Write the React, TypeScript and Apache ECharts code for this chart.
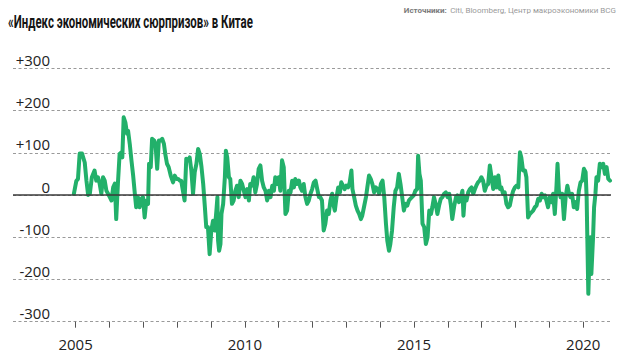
import React, { useEffect, useRef } from "react";
import * as echarts from "echarts";

const TITLE = "«Индекс экономических сюрпризов» в Китае";
const SOURCE_LABEL = "Источники:";
const SOURCE_TEXT = "Citi, Bloomberg, Центр макроэкономики BCG";

const tickYears = [2005, 2006, 2007, 2008, 2009, 2010, 2011, 2012, 2013, 2014, 2015, 2016, 2017, 2018, 2019, 2020];
const labelYears = [2005, 2010, 2015, 2020];

// decimal years
const dates = [
  2004.95, 2005.02, 2005.07, 2005.12, 2005.19, 2005.27, 2005.32, 2005.37, 2005.42, 2005.48,
  2005.56, 2005.61, 2005.66, 2005.71, 2005.76, 2005.81, 2005.86, 2005.91, 2005.96, 2006.01,
  2006.06, 2006.11, 2006.16, 2006.2, 2006.25, 2006.3, 2006.35, 2006.38, 2006.42, 2006.47,
  2006.52, 2006.55, 2006.6, 2006.65, 2006.7, 2006.75, 2006.79, 2006.84, 2006.89, 2006.94,
  2006.99, 2007.04, 2007.09, 2007.14, 2007.17, 2007.22, 2007.26, 2007.32, 2007.36, 2007.41,
  2007.46, 2007.52, 2007.56, 2007.61, 2007.65, 2007.7, 2007.75, 2007.81, 2007.88, 2007.93,
  2007.98, 2008.03, 2008.08, 2008.12, 2008.17, 2008.22, 2008.27, 2008.32, 2008.37, 2008.42,
  2008.47, 2008.52, 2008.57, 2008.62, 2008.67, 2008.72, 2008.77, 2008.82, 2008.86, 2008.91,
  2008.96, 2009.01, 2009.06, 2009.11, 2009.16, 2009.19, 2009.21, 2009.24, 2009.28, 2009.31,
  2009.36, 2009.41, 2009.44, 2009.48, 2009.53, 2009.57, 2009.62, 2009.67, 2009.72, 2009.77,
  2009.82, 2009.87, 2009.92, 2009.97, 2010.02, 2010.07, 2010.12, 2010.16, 2010.21, 2010.26,
  2010.31, 2010.36, 2010.41, 2010.46, 2010.51, 2010.56, 2010.61, 2010.66, 2010.71, 2010.76,
  2010.81, 2010.86, 2010.9, 2010.95, 2011.0, 2011.05, 2011.1, 2011.15, 2011.2, 2011.25,
  2011.3, 2011.35, 2011.4, 2011.45, 2011.49, 2011.54, 2011.6, 2011.64, 2011.69, 2011.74,
  2011.79, 2011.84, 2011.89, 2011.94, 2011.99, 2012.04, 2012.09, 2012.14, 2012.19, 2012.23,
  2012.28, 2012.33, 2012.38, 2012.43, 2012.48, 2012.53, 2012.58, 2012.61, 2012.66, 2012.71,
  2012.76, 2012.81, 2012.85, 2012.9, 2012.95, 2013.0, 2013.05, 2013.1, 2013.15, 2013.18,
  2013.23, 2013.28, 2013.33, 2013.38, 2013.43, 2013.47, 2013.52, 2013.58, 2013.62, 2013.67,
  2013.72, 2013.77, 2013.82, 2013.87, 2013.92, 2013.97, 2014.02, 2014.07, 2014.12, 2014.17,
  2014.21, 2014.26, 2014.3, 2014.35, 2014.4, 2014.45, 2014.5, 2014.55, 2014.6, 2014.65,
  2014.7, 2014.75, 2014.8, 2014.85, 2014.89, 2014.94, 2014.99, 2015.04, 2015.09, 2015.12,
  2015.16, 2015.2, 2015.25, 2015.3, 2015.35, 2015.4, 2015.45, 2015.5, 2015.54, 2015.59,
  2015.64, 2015.69, 2015.74, 2015.79, 2015.84, 2015.89, 2015.94, 2015.99, 2016.04, 2016.09,
  2016.13, 2016.19, 2016.24, 2016.28, 2016.33, 2016.38, 2016.43, 2016.46, 2016.5, 2016.55,
  2016.6, 2016.65, 2016.7, 2016.75, 2016.8, 2016.84, 2016.89, 2016.94, 2016.99, 2017.04,
  2017.09, 2017.14, 2017.19, 2017.24, 2017.29, 2017.34, 2017.39, 2017.44, 2017.49, 2017.54,
  2017.58, 2017.63, 2017.68, 2017.73, 2017.78, 2017.83, 2017.88, 2017.93, 2017.98, 2018.03,
  2018.08, 2018.13, 2018.17, 2018.22, 2018.28, 2018.32, 2018.37, 2018.42, 2018.47, 2018.52,
  2018.57, 2018.62, 2018.67, 2018.72, 2018.77, 2018.82, 2018.87, 2018.91, 2018.96, 2019.01,
  2019.06, 2019.11, 2019.16, 2019.21, 2019.24, 2019.28, 2019.33, 2019.38, 2019.43, 2019.48,
  2019.53, 2019.58, 2019.62, 2019.67, 2019.72, 2019.77, 2019.82, 2019.87, 2019.92, 2019.97,
  2020.02, 2020.07, 2020.1, 2020.12, 2020.15, 2020.18, 2020.21, 2020.24, 2020.29, 2020.32,
  2020.36, 2020.39, 2020.44, 2020.49, 2020.54, 2020.59, 2020.64, 2020.69, 2020.74, 2020.79,
];

const surprise = [
  3, 33, 38, 98, 98, 77, 34, 0, 3, 42,
  58, 34, 42, 27, 3, 42, 34, 10, 3, -5,
  -13, 18, 27, -57, 27, 97, 101, 89, 184, 172,
  145, 152, 121, 82, 46, 3, -29, -5, -29, -9,
  -5, -53, -13, -21, 74, 66, 133, 129, 121, 62,
  129, 129, 133, 121, 97, 74, 66, 46, 30, 46,
  38, 38, 34, 34, 10, -13, 86, 82, 89, 58,
  3, 54, 74, 109, 97, 66, 26, -29, -76, -76,
  -140, -84, -61, -84, -37, -5, -108, -132, -116, -45,
  -21, 42, 105, 89, 42, 38, -21, -13, 10, 22,
  -5, 34, 26, 10, -5, 14, -13, 26, 22, 42,
  6, 26, 62, 70, 34, 18, 10, -13, 10, -5,
  22, 10, 42, 26, 42, 10, 82, 66, -45, -37,
  10, 6, 34, 18, 38, 26, 34, 18, 10, 26,
  -5, -21, -13, 3, 14, 30, 34, 14, -5, -5,
  -13, -84, -68, -37, -45, -13, 3, -21, -37, -5,
  18, 6, 30, 22, 14, 22, 18, 30, 58, 14,
  -5, -25, -37, -45, -57, -49, -29, -5, 18, 46,
  38, 26, 6, 18, 14, 3, 26, 34, -5, -68,
  -108, -132, -116, -84, -29, 10, 18, 50, 26, -5,
  -37, -21, -25, -13, -9, -5, -1, 10, 14, 93,
  50, 34, -68, -76, -116, -100, -37, -45, -29, -5,
  -21, -45, -25, -9, -5, 3, 6, -5, 3, -25,
  -57, -25, -5, -1, -17, -5, 10, -49, -5, -13,
  6, 14, 18, 3, 14, 22, 30, 34, 42, 34,
  10, 22, 26, 70, 42, 14, 42, 18, 46, 14,
  18, 3, 6, -21, -29, -25, -5, 10, 18, 22,
  18, 101, 89, 58, 58, 42, -53, -45, -41, -37,
  -29, -25, -9, -13, 3, -5, -1, -13, -29, -5,
  -17, 3, -45, 22, 74, 10, -5, 3, -57, -5,
  22, 3, -5, 3, -29, -17, -33, 10, 30, 34,
  62, 54, -5, -100, -234, -160, -100, -187, -100, -29,
  3, 42, 34, 74, 66, 74, 50, 66, 38, 34,
];

const LINE_COLOR = "#22b06a";

export default function App() {
  const ref = useRef<HTMLDivElement>(null);

  useEffect(() => {
    if (!ref.current) return;
    const chart = echarts.init(ref.current, null, { renderer: "svg" });

    const titleFont = "bold 19px Roboto";
    let sx = 0.62;
    try {
      const ctx = document.createElement("canvas").getContext("2d");
      if (ctx) {
        ctx.font = titleFont;
        const w = ctx.measureText(TITLE).width;
        if (w > 0) sx = 245 / w;
      }
    } catch (e) {}

    const points = dates.map((d, i) => [d, surprise[i]]);

    chart.setOption({
      animation: false,
      backgroundColor: "#ffffff",
      grid: {
        left: 13,
        right: 13,
        top: 68.3,
        bottom: 41.3,
        containLabel: false,
        outerBoundsMode: "none",
      },
      xAxis: {
        type: "value",
        min: 2003.15,
        max: 2020.82,
        axisLine: { show: false, onZero: false },
        splitLine: { show: false },
        axisTick: {
          show: true,
          customValues: tickYears,
          length: 6,
          lineStyle: { color: "#555555", width: 1 },
        },
        axisLabel: {
          customValues: labelYears,
          margin: 15,
          color: "#222222",
          fontFamily: "'Open Sans', sans-serif",
          fontSize: 15,
          formatter: (v: number) => String(Math.round(v)),
        },
      },
      yAxis: {
        type: "value",
        min: -300,
        max: 300,
        interval: 100,
        axisLine: { show: false },
        axisTick: { show: false },
        splitLine: {
          show: true,
          lineStyle: { color: "#9a9a9a", width: 1, type: [3, 2.5] },
        },
        axisLabel: {
          inside: true,
          margin: 37,
          align: "right",
          verticalAlign: "bottom",
          lineHeight: 17,
          color: "#222222",
          fontFamily: "'Open Sans', sans-serif",
          fontSize: 15,
          formatter: (v: number) => (v > 0 ? "+" + v : String(v)),
        },
      },
      series: [
        {
          type: "line",
          data: points,
          z: 1,
          symbol: "none",
          silent: true,
          lineStyle: { opacity: 0 },
          markLine: {
            silent: true,
            symbol: "none",
            label: { show: false },
            lineStyle: { color: "#3a3a3a", width: 1.5, type: "solid" },
            data: [{ yAxis: 0 }],
          },
        },
        {
          type: "line",
          data: points,
          z: 3,
          symbol: "none",
          showSymbol: false,
          lineStyle: { color: LINE_COLOR, width: 4, join: "round", cap: "round" },
        },
      ],
      graphic: [
        {
          type: "text",
          x: 8,
          y: 21.5,
          scaleX: sx,
          style: {
            text: TITLE,
            font: titleFont,
            fill: "#151515",
            align: "left",
            verticalAlign: "middle",
          },
        },
        {
          type: "text",
          x: 616,
          y: 10,
          style: {
            text: "{b|" + SOURCE_LABEL + "} {n|" + SOURCE_TEXT + "}",
            align: "right",
            verticalAlign: "middle",
            rich: {
              b: { fontFamily: "Roboto", fontSize: 8, fontWeight: "bold", fill: "#7a7a7a" },
              n: { fontFamily: "Roboto", fontSize: 8, fill: "#9a9a9a" },
            },
          },
        },
      ],
    });

    return () => chart.dispose();
  }, []);

  return (
    <div
      ref={ref}
      style={{ position: "absolute", left: 0, top: 0, width: 624, height: 363 }}
    />
  );
}
